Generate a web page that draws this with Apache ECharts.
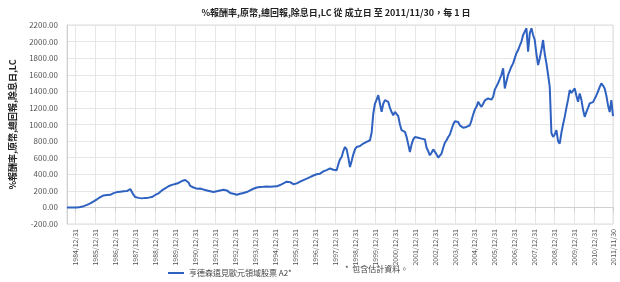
<!DOCTYPE html>
<html>
<head>
<meta charset="utf-8">
<script src="https://cdn.jsdelivr.net/npm/echarts@6/dist/echarts.min.js"></script>
<style>
  html, body { margin: 0; padding: 0; background: #fff; }
  #main { width: 620px; height: 282px; }
</style>
</head>
<body>
<div id="main"></div>
<script>
// 月度數值 1984/07 ~ 2011/11 (%)
var startYear = 1984, startMonth = 7;
var values = [
  0, 0, 0, 0, 0, 0,                                                  // 1984 Jul-Dec
  0, 2, 5, 10, 15, 22, 30, 38, 48, 60, 72, 85,                       // 1985
  98, 112, 125, 133, 145, 140, 150, 157, 152, 165, 172, 178,         // 1986
  185, 180, 190, 188, 195, 200, 197, 210, 222, 230, 150, 125,        // 1987
  121, 115, 110, 109, 112, 115, 113, 118, 122, 125, 140, 150,        // 1988
  155, 170, 188, 205, 215, 230, 245, 255, 265, 272, 278, 282,        // 1989
  286, 295, 305, 318, 325, 330, 335, 300, 260, 245, 240, 232,        // 1990
  226, 220, 228, 222, 215, 210, 205, 200, 195, 190, 185, 190,        // 1991
  195, 200, 205, 210, 212, 214, 205, 190, 175, 168, 165, 158,        // 1992
  153, 158, 165, 170, 175, 180, 185, 195, 205, 215, 225, 235,        // 1993
  240, 245, 245, 240, 248, 250, 252, 254, 250, 255, 252, 254,        // 1994
  254, 260, 270, 280, 290, 300, 310, 318, 305, 290, 280, 278,        // 1995
  290, 300, 310, 318, 330, 340, 347, 355, 365, 375, 385, 395,        // 1996
  400, 405, 407, 420, 435, 445, 450, 455, 470, 480, 455, 447,        // 1997
  447, 520, 580, 608, 680, 729, 700, 600, 487, 560, 640, 700,        // 1998
  729, 720, 740, 760, 770, 780, 790, 800, 810, 900, 1133, 1250,      // 1999
  1300, 1354, 1250, 1152, 1250, 1294, 1280, 1273, 1200, 1150, 1112, 1152, // 2000
  1152, 1100, 1000, 931, 950, 911, 850, 760, 669, 760, 820, 850,     // 2001
  860, 840, 845, 830, 850, 820, 720, 680, 629, 660, 700, 689,        // 2002
  640, 600, 588, 650, 720, 780, 810, 850, 880, 940, 1000, 1040,      // 2003
  1052, 1030, 990, 971, 960, 980, 970, 985, 991, 1050, 1120, 1180,   // 2004
  1213, 1273, 1240, 1213, 1250, 1290, 1300, 1314, 1330, 1300, 1334, 1420, // 2005
  1460, 1500, 1515, 1600, 1677, 1435, 1520, 1600, 1650, 1700, 1737, 1800, // 2006
  1860, 1898, 1950, 2000, 2080, 2120, 2160, 1878, 2100, 2160, 2080, 2019, // 2007
  1850, 1717, 1800, 1900, 2019, 1850, 1737, 1600, 1455, 900, 850, 880,    // 2008
  931, 800, 770, 900, 1000, 1092, 1200, 1300, 1415, 1380, 1400, 1435,     // 2009
  1350, 1273, 1375, 1300, 1180, 1092, 1150, 1200, 1254, 1230, 1270, 1294, // 2010
  1350, 1400, 1450, 1496, 1470, 1435, 1350, 1233, 1150, 1294, 1100        // 2011 Jan-Nov
];

var tickLabels = [
  '1984/12/31', '1985/12/31', '1986/12/31', '1987/12/31', '1988/12/31', '1989/12/31',
  '1990/12/31', '1991/12/31', '1992/12/31', '1993/12/31', '1994/12/31', '1995/12/31',
  '1996/12/31', '1997/12/31', '1998/12/31', '1999/12/31', '2000/12/31', '2001/12/31',
  '2002/12/31', '2003/12/31', '2004/12/31', '2005/12/31', '2006/12/31', '2007/12/31',
  '2008/12/31', '2009/12/31', '2010/12/31', '2011/11/30'
];

var titleText = '%報酬率,原幣,總回報,除息日,LC 從 成立日 至 2011/11/30，每 1 日';
var yName = '%報酬率,原幣,總回報,除息日,LC';
var seriesName = '亨德森遠見歐元領域股票 A2*';
var noteText = '*  包含估計資料。';

// 月底日期當作類別
var categories = [];
for (var i = 0; i < values.length; i++) {
  var m = startMonth - 1 + i;
  var y = startYear + Math.floor(m / 12);
  var mm = m % 12 + 1;
  var dd = new Date(y, mm, 0).getDate();
  categories.push(y + '/' + (mm < 10 ? '0' + mm : mm) + '/' + dd);
}

function isTick(index, value) {
  return tickLabels.indexOf(value) >= 0;
}

var font = "'Noto Sans CJK TC', 'Noto Sans', sans-serif";
var myChart = echarts.init(document.getElementById('main'));
myChart.setOption({
  animation: false,
  textStyle: { fontFamily: font },
  title: {
    text: titleText,
    left: 331,
    textAlign: 'center',
    top: 3,
    textStyle: { fontSize: 9, fontWeight: 'bold', color: '#222', fontFamily: font }
  },
  legend: {
    data: [seriesName],
    left: 163,
    top: 264,
    itemWidth: 16,
    itemHeight: 2,
    itemGap: 4,
    icon: 'rect',
    textStyle: { fontSize: 8, color: '#444', fontFamily: font }
  },
  graphic: [{
    type: 'text',
    left: 345,
    top: 265,
    style: { text: noteText, fontSize: 8, fill: '#444', fontFamily: font }
  }],
  grid: {
    left: 67,
    right: 7,
    top: 25,
    bottom: 58,
    show: true,
    borderColor: '#dcdcdc',
    borderWidth: 1
  },
  xAxis: {
    type: 'category',
    boundaryGap: false,
    data: categories,
    axisLine: { lineStyle: { color: '#d0d0d0' } },
    axisTick: { show: true, interval: isTick, lineStyle: { color: '#d0d0d0' } },
    splitLine: { show: true, interval: isTick, lineStyle: { color: '#e6e6e6' } },
    axisLabel: {
      interval: isTick,
      rotate: 90,
      fontSize: 7,
      color: '#555',
      margin: 5
    }
  },
  yAxis: {
    type: 'value',
    min: -200,
    max: 2200,
    interval: 200,
    name: yName,
    nameLocation: 'middle',
    nameRotate: 90,
    nameGap: 50,
    nameTextStyle: { fontSize: 9, fontWeight: 'bold', color: '#222', fontFamily: font },
    axisLine: { show: true, lineStyle: { color: '#d0d0d0' } },
    axisTick: { show: false },
    splitLine: { lineStyle: { color: '#e6e6e6' } },
    axisLabel: {
      fontSize: 8,
      color: '#555',
      margin: 9,
      formatter: function (v) { return v.toFixed(2); }
    }
  },
  series: [{
    name: seriesName,
    type: 'line',
    data: values,
    showSymbol: false,
    lineStyle: { color: '#2f62c0', width: 2 },
    itemStyle: { color: '#2f62c0' }
  }]
});
</script>
</body>
</html>
